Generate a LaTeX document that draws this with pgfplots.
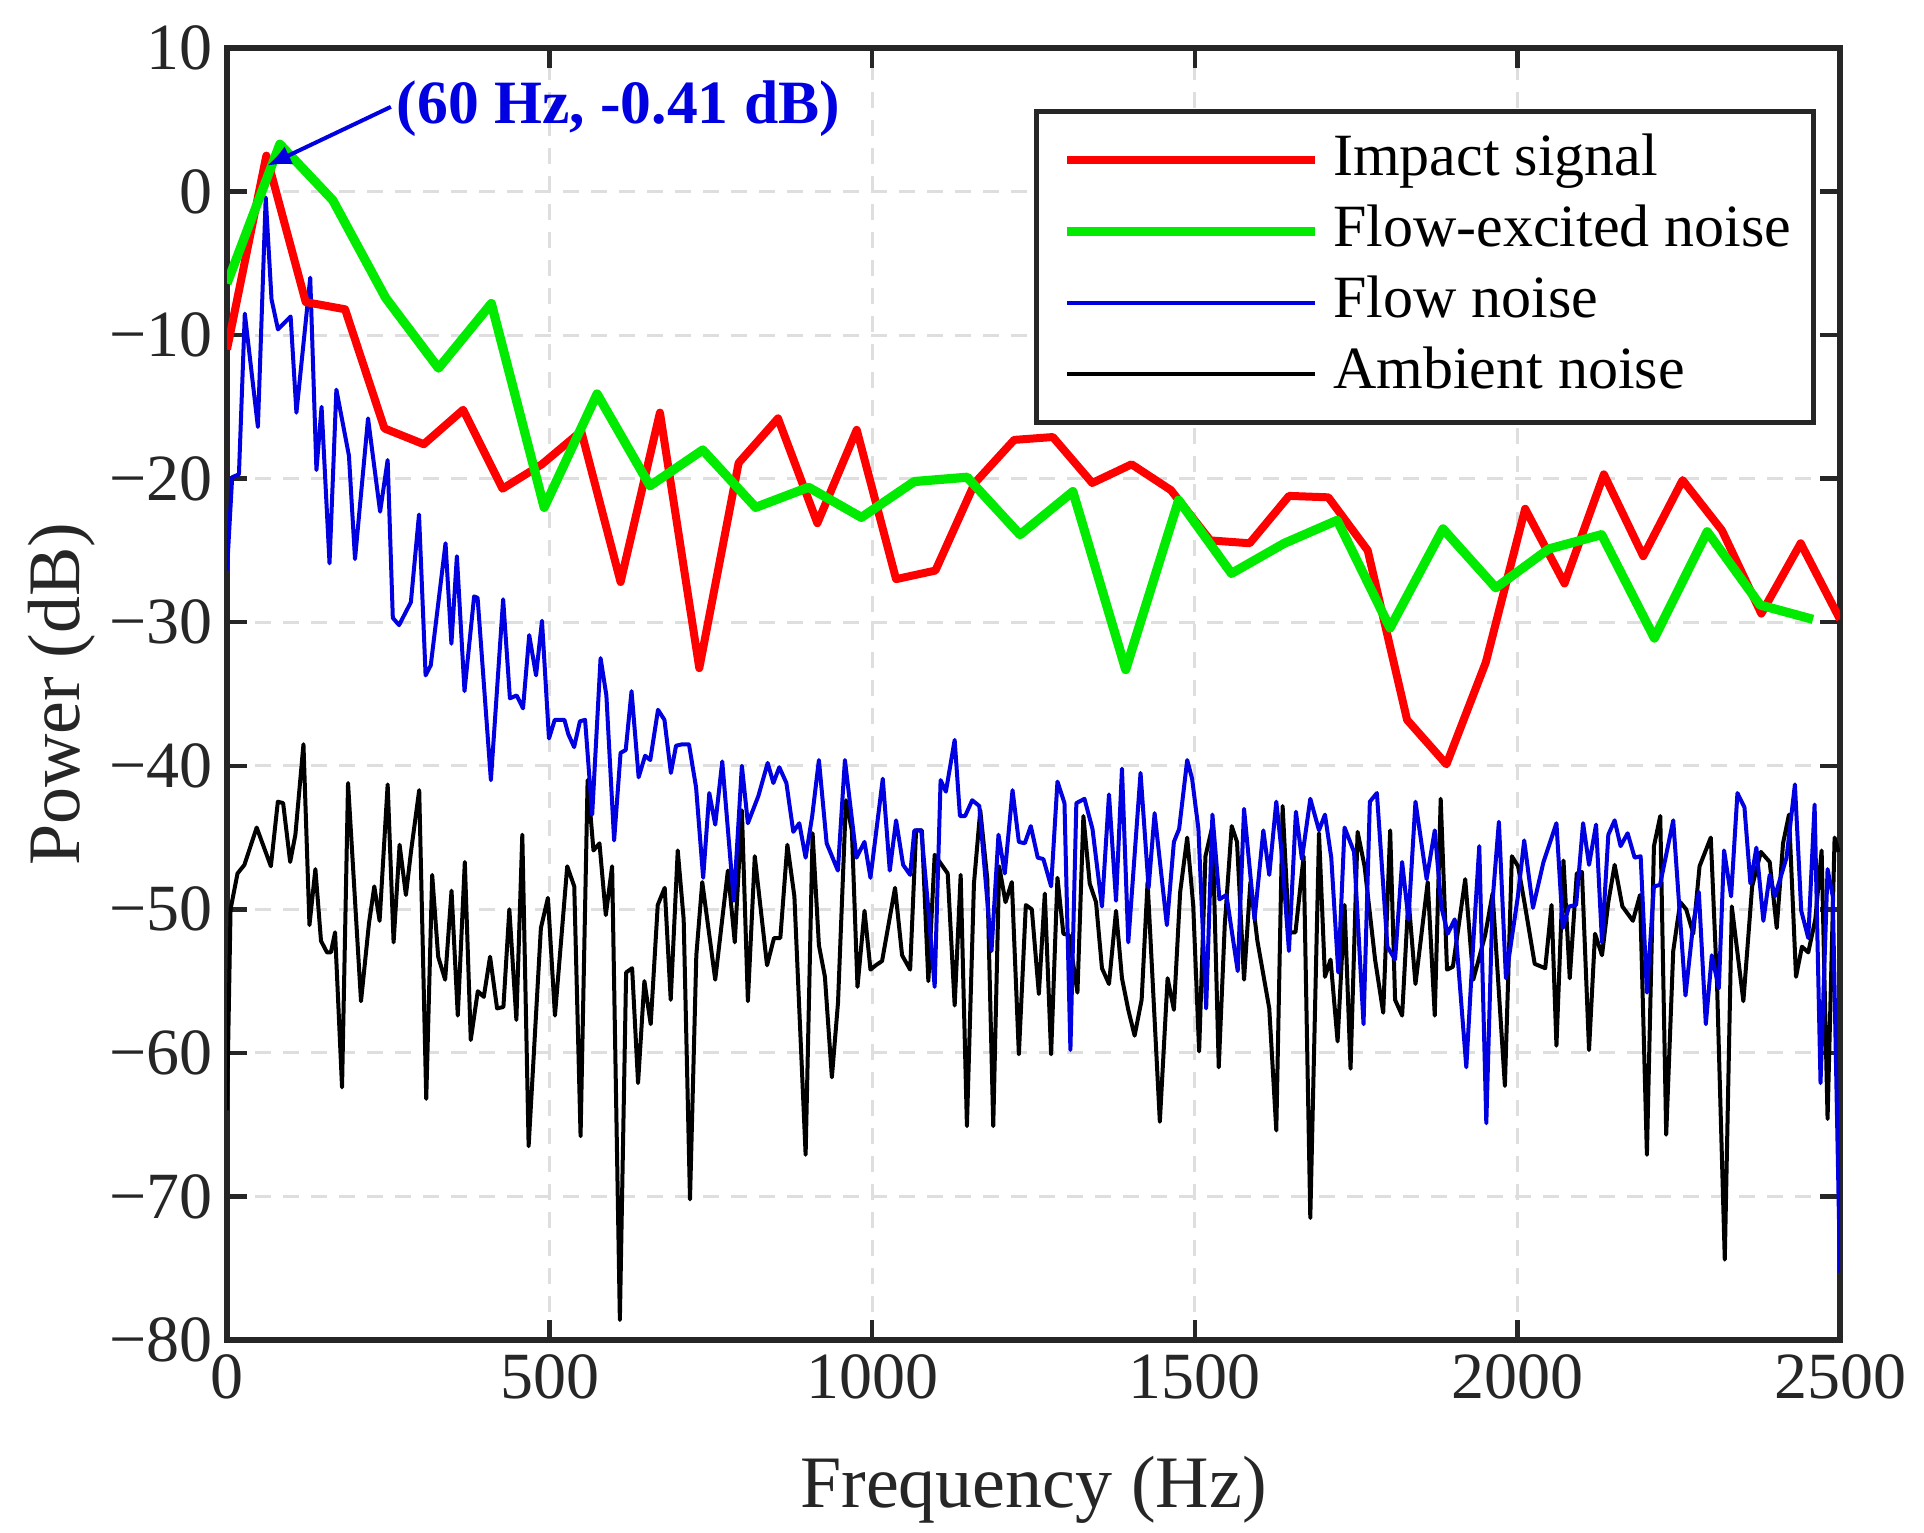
\documentclass[border=0pt]{standalone}
\usepackage{fontspec}
\setmainfont{Liberation Serif}
\usepackage{pgfplots}
\pgfplotsset{compat=1.18}
\usetikzlibrary{arrows.meta}
\definecolor{myred}{RGB}{255,0,0}
\definecolor{mygreen}{RGB}{0,235,0}
\definecolor{myblue}{RGB}{0,0,225}
\definecolor{axisgray}{RGB}{38,38,38}
\definecolor{gridgray}{RGB}{222,222,222}

\begin{document}
\begin{tikzpicture}
\useasboundingbox (-56.75pt,-48pt) rectangle (424.25pt,335pt);
\begin{axis}[
  scale only axis, width=403.25pt, height=323pt,
  xmin=0, xmax=2500, ymin=-80, ymax=10,
  xtick={0,500,1000,1500,2000,2500},
  xticklabels={0,500,1000,1500,2000,2500},
  ytick={-80,-70,-60,-50,-40,-30,-20,-10,0,10},
  yticklabels={−80,−70,−60,−50,−40,−30,−20,−10,0,10},
  tick align=inside, tick pos=both,
  major tick length=5pt,
  every tick/.style={axisgray, line width=1.1pt},
  axis line style={axisgray, line width=1.3pt},
  grid=major,
  major grid style={gridgray, dash pattern=on 4pt off 3pt, line width=0.8pt},
  ticklabel style={font=\fontsize{16.5}{19}\selectfont, text=axisgray},
  xlabel={Frequency (Hz)}, ylabel={Power (dB)},
  label style={font=\fontsize{18.5}{22}\selectfont, text=axisgray},
  xlabel style={at={(axis description cs:0.5,-0.116)}, anchor=center},
  ylabel style={at={(axis description cs:-0.1023,0.5)}, anchor=center},
  legend style={at={(0.5,0.953)}, anchor=north west, draw=axisgray,
    line width=1.25pt, fill=white, inner xsep=2.2pt, inner ysep=5pt,
    font=\fontsize{15}{18}\selectfont, row sep=3.3pt,
    nodes={inner ysep=0pt, text height=11pt, text depth=3.5pt, inner xsep=3.4pt}},
  legend cell align=left,
  legend image code/.code={\path (-4.4pt,0pt); \draw[#1] (0pt,0pt) -- (62pt,0pt);},
  every axis plot/.append style={line join=round},
]
% Ambient noise
\addplot[black, line width=1pt, forget plot] coordinates {
(0,-64.0) (5.5,-50.0) (16.3,-47.5) (27,-46.9) (46,-44.3) (68,-47.0) (78.8,-42.5) (87,-42.6)
(97.9,-46.7) (106,-44.8) (118.5,-38.5) (127.8,-51.1) (137,-47.2) (145.7,-52.2) (155,-53.0) (161,-53.0)
(167.5,-51.6) (178.3,-62.4) (187.6,-41.2) (207.7,-56.4) (220,-51.0) (228.3,-48.4) (236.5,-50.8) (249,-41.3)
(258.2,-52.3) (267.5,-45.5) (277.3,-49.0) (285.4,-45.9) (297.9,-41.7) (308.8,-63.2) (318,-47.6) (327.3,-53.3)
(338.1,-54.9) (348,-48.7) (357.7,-57.4) (368.6,-46.7) (377.8,-59.1) (388.7,-55.7) (398,-56.1) (407.7,-53.3)
(418.6,-56.9) (428.4,-56.8) (437.6,-50.0) (448.5,-57.7) (457.7,-44.8) (467.5,-66.5) (486.5,-51.3) (497.4,-49.2)
(508.3,-57.4) (527.3,-47.0) (538.2,-48.4) (548,-65.8) (558.9,-41.0) (568,-45.9) (577.3,-45.4) (587.1,-50.4)
(596.9,-47.0) (608.9,-78.6) (618.6,-54.4) (627.9,-54.1) (637.1,-62.1) (646.9,-55.0) (656.7,-58.0) (667.6,-49.7)
(678.4,-48.5) (687.7,-56.3) (698.6,-45.9) (707.8,-50.7) (717.6,-70.2) (727.4,-53.2) (736.6,-48.1) (756.7,-54.9)
(776.3,-47.3) (787,-52.3) (798,-43.1) (807.3,-56.4) (818,-46.3) (837,-53.9) (847.8,-52.0) (857.6,-52.0)
(868.5,-45.5) (879.4,-49.1) (896.8,-67.1) (907.6,-44.7) (917.4,-52.5) (926.7,-54.7) (937.5,-61.7) (947,-56.5)
(959.3,-42.4) (968.5,-44.5) (977.2,-55.4) (988.1,-50.1) (997.3,-54.2) (1005.5,-53.9) (1015.3,-53.6) (1035.4,-48.5)
(1046.3,-53.2) (1058.8,-54.2) (1068,-44.5) (1077,-44.5) (1087,-55.0) (1096.8,-46.2) (1117,-47.5) (1127.8,-56.7)
(1137.1,-47.6) (1146.8,-65.1) (1157.7,-48.2) (1167.5,-43.1) (1178.4,-47.9) (1187.6,-65.1) (1196.8,-47.0) (1206.6,-49.5)
(1216.4,-48.1) (1227.3,-60.1) (1238.1,-49.7) (1247.4,-50.0) (1258.3,-55.9) (1267.5,-48.9) (1277.3,-60.1) (1287.1,-47.8)
(1296.3,-51.7) (1305,-51.8) (1318.1,-55.8) (1327.3,-43.5) (1337.1,-48.2) (1346.9,-49.5) (1356.1,-54.1) (1367,-55.2)
(1377.9,-50.1) (1387.1,-54.8) (1396.9,-57.0) (1406.7,-58.8) (1417.6,-56.3) (1426.8,-48.1) (1445.8,-64.8) (1457.8,-54.8)
(1467.6,-57.0) (1477.3,-48.8) (1488.2,-45.0) (1497.5,-49.7) (1506.7,-59.9) (1516.5,-46.3) (1527.3,-44.2) (1537.1,-61.0)
(1546.4,-51.1) (1557.2,-44.2) (1565.4,-45.3) (1576.3,-54.9) (1586.1,-48.1) (1597,-52.2) (1615.4,-56.9) (1626.3,-65.4)
(1636.1,-42.8) (1645.9,-51.6) (1656,-51.6) (1668.7,-46.3) (1679,-71.5) (1692.5,-44.7) (1701.7,-54.7) (1710.4,-53.5)
(1721.3,-59.2) (1732.1,-49.7) (1741.4,-61.1) (1752.3,-44.6) (1763.1,-47.0) (1779.4,-53.5) (1792,-57.2) (1802.8,-44.5)
(1810.4,-56.3) (1821.3,-57.4) (1831.1,-49.2) (1842,-55.2) (1861,-48.1) (1871.9,-57.4) (1881.1,-42.3) (1890.9,-54.2)
(1900,-54.0) (1919.1,-47.9) (1931.6,-54.9) (1950,-51.8) (1961.5,-48.9) (1980.6,-62.3) (1991.4,-46.3) (2001,-47.0)
(2011.6,-49.7) (2026.8,-53.8) (2043.1,-54.1) (2052.9,-49.7) (2060.5,-59.5) (2071.4,-46.6) (2081.1,-54.8) (2092,-47.5)
(2100,-47.4) (2111,-59.8) (2120.3,-51.7) (2131.1,-53.2) (2140.9,-49.5) (2150.7,-46.9) (2162.7,-49.8) (2179,-50.8)
(2190,-49.0) (2200.7,-67.1) (2211.6,-45.6) (2221.4,-43.5) (2230.6,-65.7) (2241.5,-52.9) (2252.4,-49.5) (2261.6,-50.0)
(2272.5,-51.7) (2282.3,-47.0) (2299.7,-45.0) (2309.4,-55.2) (2321.4,-74.4) (2332.3,-49.8) (2350.2,-56.4) (2363.8,-48.4)
(2377.4,-46.0) (2391,-46.7) (2401.9,-51.3) (2411.7,-45.4) (2420.9,-43.4) (2431.8,-54.7) (2441,-52.6) (2450.8,-53.0)
(2461.7,-50.7) (2471.5,-45.9) (2480.7,-64.6) (2491.6,-45.0) (2498,-46.0)
};
% Flow noise
\addplot[myblue, line width=1pt, forget plot] coordinates {
(0,-26.4) (8,-19.9) (18.5,-19.7) (27.6,-8.5) (47.9,-16.4) (60,-0.41) (69,-7.5) (79,-9.6)
(98.6,-8.7) (107.6,-15.4) (129,-6.0) (138.6,-19.4) (146.6,-15.0) (158.9,-25.9) (169.5,-13.8) (189,-18.4)
(198.4,-25.6) (218.6,-15.8) (237.3,-22.3) (249,-18.7) (257,-29.7) (266.7,-30.2) (285,-28.6) (297.6,-22.5)
(307.8,-33.7) (315.8,-33.0) (338.7,-24.5) (347.8,-31.5) (356.3,-25.4) (368.1,-34.8) (383,-28.2) (388.4,-28.3)
(409,-41.0) (428,-28.4) (438.5,-35.3) (449,-35.1) (458.8,-36.0) (468.4,-30.9) (479,-33.7) (488.2,-29.9)
(499,-38.1) (508,-36.8) (523,-36.8) (529,-37.8) (538,-38.7) (547,-36.9) (555,-36.8) (566,-43.4)
(579,-32.5) (588,-35.1) (600,-45.2) (610,-39.1) (618,-38.9) (627,-34.8) (638,-40.8) (648,-39.3)
(656,-39.6) (668,-36.1) (678,-36.8) (688,-40.5) (696,-38.6) (706,-38.5) (716,-38.5) (727,-41.5)
(738,-47.8) (747.5,-41.9) (756.7,-44.1) (767.6,-39.7) (785.5,-49.4) (798,-40.0) (807.3,-44.0) (823.6,-42.1)
(838,-39.8) (846.8,-41.2) (856,-40.1) (867,-41.2) (877.7,-44.6) (887,-44.0) (896.8,-46.4) (907,-43.5)
(917.4,-39.6) (929.4,-45.4) (946.8,-47.3) (957.7,-39.6) (975.6,-46.4) (988,-45.3) (997.3,-47.8) (1016.4,-40.9)
(1027.2,-47.3) (1037,-43.8) (1047.9,-46.9) (1058.8,-47.6) (1065.3,-44.5) (1076,-44.5) (1087,-50.0) (1096.8,-55.4)
(1106,-41.0) (1114.2,-41.8) (1127.8,-38.2) (1136,-43.5) (1144,-43.5) (1155,-42.4) (1166,-42.8) (1184.9,-52.9)
(1195.7,-44.8) (1205.5,-47.5) (1217.5,-41.7) (1227.3,-45.3) (1236.5,-45.4) (1245.8,-44.2) (1256.6,-46.4) (1265.3,-46.5)
(1277.3,-48.4) (1287.1,-41.1) (1298,-42.6) (1307.2,-59.8) (1316.4,-42.6) (1329,-42.3) (1341.4,-44.4) (1356.1,-49.8)
(1367,-42.0) (1377.9,-49.4) (1387.1,-40.2) (1396.9,-52.3) (1415.9,-40.5) (1428.4,-48.5) (1437.7,-43.3) (1456.7,-51.1)
(1467.6,-45.3) (1475.7,-44.4) (1488.2,-39.6) (1495.8,-40.9) (1505.6,-44.4) (1517.6,-56.9) (1527.3,-43.4) (1538.2,-49.3)
(1549,-49.0) (1566.5,-54.3) (1576.3,-43.0) (1592.6,-50.7) (1606.2,-44.5) (1615.4,-47.6) (1626.3,-42.5) (1635,-46.2)
(1645.9,-52.9) (1656.7,-43.2) (1666,-46.5) (1679,-42.3) (1692.5,-44.5) (1701.7,-43.4) (1711.5,-46.4) (1722.4,-54.4)
(1732.1,-44.3) (1746.8,-46.0) (1761.5,-58.0) (1771.3,-42.5) (1782.2,-41.9) (1798.5,-52.6) (1810.4,-53.5) (1821.3,-46.7)
(1831.1,-50.7) (1842,-42.5) (1859.3,-47.9) (1871.9,-44.5) (1882,-49.8) (1892,-51.7) (1902.8,-50.7) (1920.8,-61.0)
(1931.6,-52.3) (1940.9,-45.6) (1951.8,-64.9) (1961.5,-49.4) (1971.3,-43.9) (1982.2,-54.8) (2000.7,-49.1) (2010.5,-45.2)
(2024.1,-49.9) (2040.4,-46.7) (2060.5,-44.0) (2070.3,-51.3) (2080.1,-49.8) (2091,-49.7) (2101.8,-44.0) (2111,-46.9)
(2121.9,-44.1) (2131.1,-52.3) (2140.9,-44.8) (2150.7,-43.8) (2159.9,-45.6) (2170.8,-44.7) (2181.7,-46.4) (2191,-46.3)
(2200.7,-55.8) (2211.6,-48.4) (2221,-48.3) (2241.5,-43.8) (2260.5,-56.0) (2272.5,-51.0) (2281.2,-48.8) (2292,-58.0)
(2301.3,-53.2) (2312.2,-55.5) (2320.3,-45.9) (2331.2,-49.1) (2341,-41.9) (2351.9,-42.9) (2361.1,-48.2) (2370.4,-45.7)
(2381.2,-50.8) (2391,-47.6) (2399,-49.1) (2417.1,-46.4) (2430.1,-41.3) (2439.9,-50.1) (2450.8,-52.0) (2460.6,-42.7)
(2469.8,-62.1) (2480.7,-47.2) (2488.8,-49.1) (2500,-75.3)
};
% Impact signal
\addplot[myred, line width=2pt, forget plot] coordinates {
(0,-11.0) (61,2.5) (122,-7.7) (183,-8.2) (244,-16.5) (305,-17.6) (366,-15.2) (427,-20.7)
(488,-19.0) (549,-16.7) (610,-27.2) (671,-15.4) (732,-33.2) (793,-18.9) (854,-15.8) (915,-23.1)
(976,-16.6) (1037,-27.0) (1098,-26.4) (1159,-20.3) (1220,-17.3) (1280,-17.1) (1341,-20.3) (1402,-19.0)
(1463,-20.8) (1524,-24.3) (1585,-24.5) (1646,-21.2) (1707,-21.3) (1768,-25.0) (1829,-36.8) (1890,-39.9)
(1951,-32.8) (2012,-22.1) (2073,-27.3) (2134,-19.7) (2195,-25.4) (2256,-20.1) (2317,-23.6) (2378,-29.4)
(2439,-24.5) (2500,-29.8)
};
% Flow-excited noise
\addplot[mygreen, line width=2.3pt, forget plot] coordinates {
(0,-6.4) (81.9,3.3) (163.9,-0.6) (245.8,-7.4) (327.8,-12.3) (409.7,-7.8) (491.6,-22.0) (573.6,-14.1)
(655.5,-20.5) (737.4,-18.0) (819.4,-22.0) (901.3,-20.6) (983.3,-22.7) (1065.2,-20.2) (1147.1,-19.9) (1229.1,-23.9)
(1311.0,-20.9) (1392.9,-33.3) (1474.9,-21.5) (1556.8,-26.6) (1638.8,-24.5) (1720.7,-22.9) (1802.6,-30.4) (1884.6,-23.5)
(1966.5,-27.6) (2048.4,-24.9) (2130.4,-23.9) (2212.3,-31.1) (2294.2,-23.7) (2376.2,-28.8) (2458.1,-29.8)
};
\addlegendimage{myred, line width=2pt}
\addlegendentry{Impact signal}
\addlegendimage{mygreen, line width=2.3pt}
\addlegendentry{Flow-excited noise}
\addlegendimage{myblue, line width=1pt}
\addlegendentry{Flow noise}
\addlegendimage{black, line width=1pt}
\addlegendentry{Ambient noise}
\draw[myblue, line width=1pt, -{Latex[length=6pt,width=5pt]}] (axis cs:254,5.9) -- (axis cs:62,1.8);
\node[anchor=west, text=myblue, font=\bfseries\fontsize{15.4}{18}\selectfont, inner sep=0pt] at (axis cs:262,5.8) {(60 Hz, -0.41 dB)};
\end{axis}
\end{tikzpicture}
\end{document}
